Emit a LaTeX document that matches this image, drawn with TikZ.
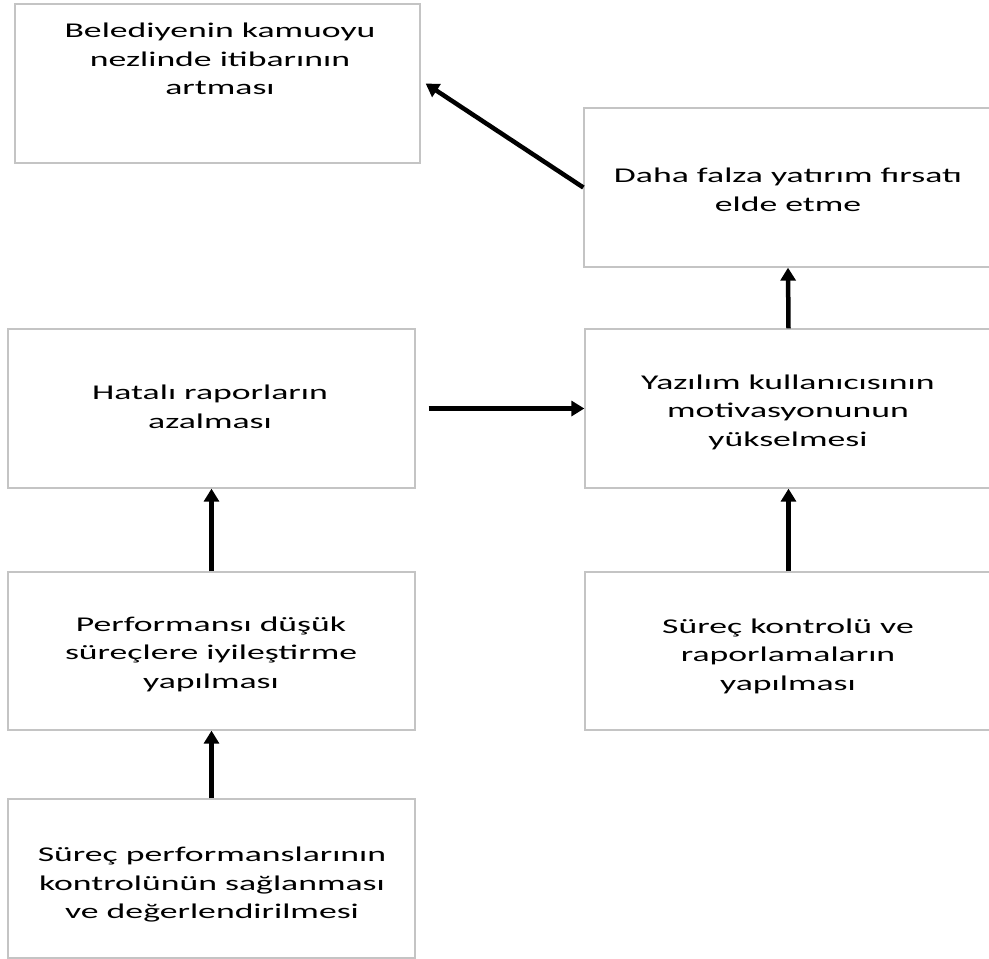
\documentclass[tikz,border=0pt]{standalone}
\usepackage{fontspec}
\setmainfont{Carlito}[FakeStretch=1.7]
\usetikzlibrary{arrows.meta}
\definecolor{boxline}{HTML}{C4C4C4}

\begin{document}
\begin{tikzpicture}[x=1pt,y=-1pt,
  box/.style={draw=boxline, line width=1.3pt, inner sep=0pt},
  txt/.style={align=center, inner sep=0pt, font=\fontsize{21}{28.5}\selectfont},
  arr/.style={line width=4.5pt, -{Triangle[length=13pt,width=15pt]}}]
  \useasboundingbox (0,0) rectangle (989,959);

  % boxes
  \node[box, minimum width=405, minimum height=159] (bel)   at (217.5,83.5) {};
  \node[box, minimum width=408, minimum height=159] (daha)  at (788,187.5) {};
  \node[box, minimum width=407, minimum height=159] (hat)   at (211.5,408.5) {};
  \node[box, minimum width=407, minimum height=159] (yaz)   at (788.5,408.5) {};
  \node[box, minimum width=407, minimum height=158] (perf)  at (211.5,651) {};
  \node[box, minimum width=407, minimum height=158] (skon)  at (788.5,651) {};
  \node[box, minimum width=407, minimum height=159] (sperf) at (211.5,878.5) {};

  % labels
  \node[txt] (beltxt)   at (220,59)  {Belediyenin kamuoyu\\nezlinde itibarının\\artması};
  \node[txt] (dahatxt)  at (788,190) {Daha falza yatırım fırsatı\\elde etme};
  \node[txt] (hattxt)   at (210,407) {Hatalı raporların\\azalması};
  \node[txt] (yaztxt)   at (788,412) {Yazılım kullanıcısının\\motivasyonunun\\yükselmesi};
  \node[txt] (perftxt)  at (211,654) {Performansı düşük\\süreçlere iyileştirme\\yapılması};
  \node[txt] (skontxt)  at (788,656) {Süreç kontrolü ve\\raporlamaların\\yapılması};
  \node[txt] (sperftxt) at (212,885) {Süreç performanslarının\\kontrolünün sağlanması\\ve değerlendirilmesi};

  % connectors
  \draw[arr] (daha.west) -- ([xshift=5pt]bel.east);
  \draw[arr, shorten <=13pt] (hat.east) -- (yaz.west);
  \draw[arr] (perf.north) -- (hat.south);
  \draw[arr] (sperf.north) -- (perf.south);
  \draw[arr] (skon.north) -- (yaz.south);
  \draw[arr] (yaz.north) -- (daha.south);
\end{tikzpicture}
\end{document}
